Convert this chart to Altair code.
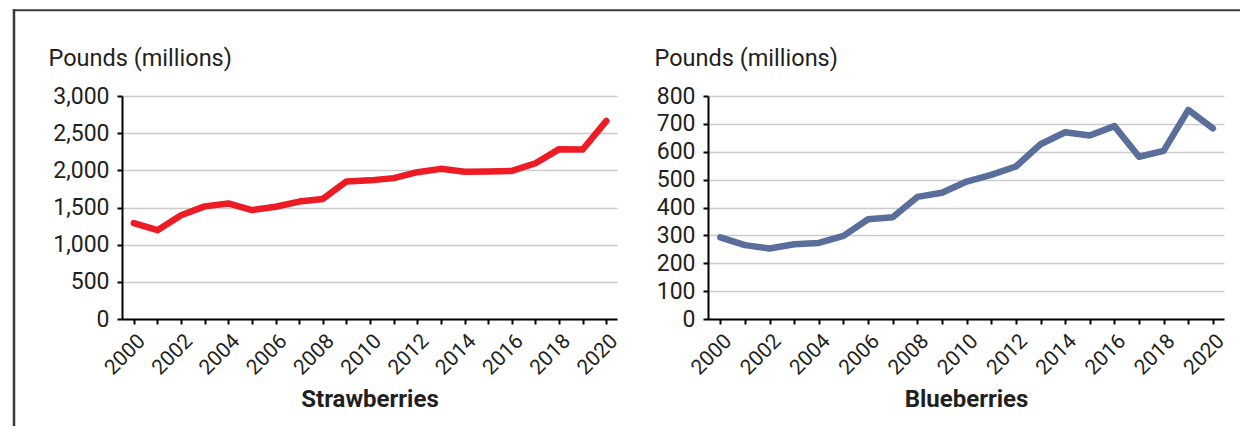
import altair as alt
import pandas as pd

years = list(range(2000, 2021))
strawberries = [1290, 1195, 1395, 1515, 1555, 1465, 1510, 1580, 1615, 1850, 1865,
                1895, 1975, 2020, 1980, 1985, 1992, 2095, 2285, 2280, 2665]
blueberries = [293, 265, 253, 268, 273, 298, 358, 365, 438, 453, 493,
               517, 547, 627, 670, 658, 692, 582, 603, 750, 684]

FONT = "Roboto"
TEXT = "#231f20"
BORDER = "#3a3a3a"


def panel(values, color, title, ymax, ystep, fmt, title_x):
    df = pd.DataFrame({"year": years, "value": values})
    x = alt.X(
        "year:Q",
        scale=alt.Scale(domain=[1999.5, 2020.45], nice=False, zero=False),
        axis=alt.Axis(
            values=years,
            format="d",
            labelExpr="datum.value % 2 == 0 ? datum.label : ''",
            labelOverlap=False,
            grid=False,
            labelAngle=-45,
            labelAlign="right",
            labelBaseline="top",
            labelPadding=6,
            labelFontSize=21,
            title=title,
            titleFontWeight="bold",
            titleFontSize=24,
            titleBaseline="middle",
            titleY=80,
        ),
    )
    y = alt.Y(
        "value:Q",
        scale=alt.Scale(domain=[0, ymax], nice=False),
        axis=alt.Axis(
            values=list(range(0, ymax + 1, ystep)),
            format=fmt,
            grid=True,
            labelPadding=8,
            labelFontSize=23,
            title="Pounds (millions)",
            titleAngle=0,
            titleAlign="left",
            titleBaseline="middle",
            titleFontWeight="normal",
            titleFontSize=23.5,
            titleX=title_x,
            titleY=-38,
        ),
    )
    line = alt.Chart(df).mark_line(
        color=color, strokeWidth=6.5, strokeCap="round", strokeJoin="round"
    ).encode(x=x, y=y)
    return line


one = pd.DataFrame({"a": [0]})
border_top = alt.Chart(one).mark_rule(color=BORDER, strokeWidth=2).encode(
    x=alt.value(-109.25), x2=alt.value(1118), y=alt.value(-85.7)
)
border_left = alt.Chart(one).mark_rule(color=BORDER, strokeWidth=2.5).encode(
    x=alt.value(-108), y=alt.value(-86.7), y2=alt.value(330)
)

left = alt.layer(
    panel(strawberries, "#ED1C24", "Strawberries", 3000, 500, ",d", -74),
    border_top,
    border_left,
).properties(width=495, height=223)

right = panel(blueberries, "#5A6E9C", "Blueberries", 800, 100, "d", -54).properties(
    width=516, height=223
)

chart = (
    alt.hconcat(left, right, spacing=91, bounds="flush")
    .properties(padding={"left": 3, "top": 0, "right": 0, "bottom": 0})
    .configure_view(stroke=None)
    .configure_axis(
        labelFont=FONT,
        titleFont=FONT,
        labelColor=TEXT,
        titleColor=TEXT,
        domainColor="#000000",
        domainWidth=2,
        tickColor="#000000",
        tickWidth=2,
        tickSize=5,
        gridColor="#cccccc",
        gridWidth=1.5,
    )
)

chart.save("out.html", embed_options={"renderer": "svg", "actions": False})
